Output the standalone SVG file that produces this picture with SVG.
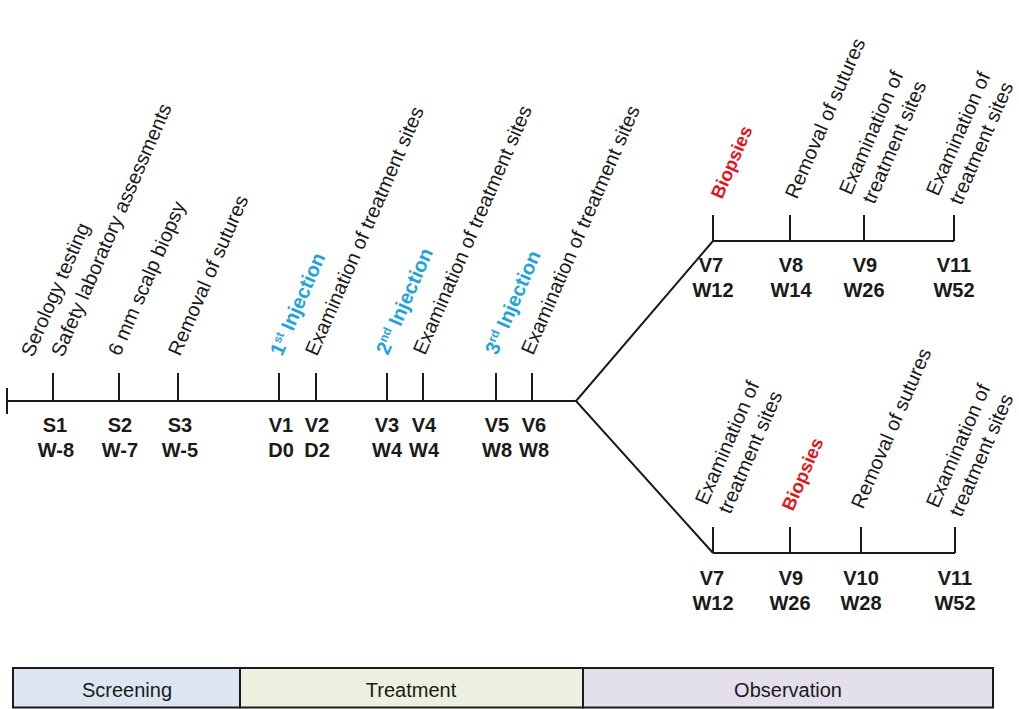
<svg xmlns="http://www.w3.org/2000/svg" width="1019" height="709" viewBox="0 0 1019 709">
<style>
.ln{stroke:#1a1a1a;stroke-width:2;fill:none}
.v{font-family:"Liberation Sans",Arial,sans-serif;font-weight:bold;font-size:20px;fill:#1a1a1a;text-anchor:middle}
.r{font-family:"Liberation Sans",Arial,sans-serif;font-size:20px;fill:#1a1a1a}
.inj{font-family:"Liberation Sans",Arial,sans-serif;font-weight:bold;font-size:20px;fill:#1fa3dc}
.sup{font-size:12px}
.bio{font-family:"Liberation Sans",Arial,sans-serif;font-weight:bold;font-size:18.5px;fill:#e3141c}
.ph{font-family:"Liberation Sans",Arial,sans-serif;font-size:20px;fill:#1a1a1a;text-anchor:middle}
.box{stroke:#1a1a1a;stroke-width:2}
</style>
<g id="connectors">
<line class="ln" x1="7" y1="401" x2="576" y2="401"/>
<line class="ln" x1="7" y1="388" x2="7" y2="414"/>
<polyline class="ln" points="713,241 576,401 713,553"/>
<line class="ln" x1="713" y1="241" x2="954" y2="241"/>
<line class="ln" x1="713" y1="553" x2="955" y2="553"/>
</g>
<g id="S1">
<line class="ln" x1="53" y1="373" x2="53" y2="401"/>
<text class="r" transform="translate(33,358) rotate(-66.5)">Serology testing</text>
<text class="r" transform="translate(63,358) rotate(-66.5)">Safety laboratory assessments</text>
<text class="v" x="55" y="432">S1</text><text class="v" x="56" y="457">W-8</text>
</g>
<g id="S2">
<line class="ln" x1="119" y1="373" x2="119" y2="401"/>
<text class="r" transform="translate(120,357) rotate(-66.5)">6 mm scalp biopsy</text>
<text class="v" x="120" y="432">S2</text><text class="v" x="120" y="457">W-7</text>
</g>
<g id="S3">
<line class="ln" x1="178" y1="373" x2="178" y2="401"/>
<text class="r" transform="translate(180,357) rotate(-66.5)">Removal of sutures</text>
<text class="v" x="180" y="432">S3</text><text class="v" x="180" y="457">W-5</text>
</g>
<g id="V1">
<line class="ln" x1="279" y1="373" x2="279" y2="401"/>
<text class="inj" transform="translate(282,357) rotate(-66.5)">1<tspan class="sup" dy="-7">st</tspan><tspan dy="7"> Injection</tspan></text>
<text class="v" x="281" y="432">V1</text><text class="v" x="281" y="457">D0</text>
</g>
<g id="V2">
<line class="ln" x1="316" y1="373" x2="316" y2="401"/>
<text class="r" transform="translate(317,357) rotate(-66.5)">Examination of treatment sites</text>
<text class="v" x="317" y="432">V2</text><text class="v" x="317" y="457">D2</text>
</g>
<g id="V3">
<line class="ln" x1="387" y1="373" x2="387" y2="401"/>
<text class="inj" transform="translate(388,356) rotate(-66.5)">2<tspan class="sup" dy="-7">nd</tspan><tspan dy="7"> Injection</tspan></text>
<text class="v" x="387" y="432">V3</text><text class="v" x="387" y="457">W4</text>
</g>
<g id="V4">
<line class="ln" x1="423" y1="373" x2="423" y2="401"/>
<text class="r" transform="translate(425,356) rotate(-66.5)">Examination of treatment sites</text>
<text class="v" x="424" y="432">V4</text><text class="v" x="424" y="457">W4</text>
</g>
<g id="V5">
<line class="ln" x1="496" y1="373" x2="496" y2="401"/>
<text class="inj" transform="translate(497,356) rotate(-66.5)">3<tspan class="sup" dy="-7">rd</tspan><tspan dy="7"> Injection</tspan></text>
<text class="v" x="497" y="432">V5</text><text class="v" x="497" y="457">W8</text>
</g>
<g id="V6">
<line class="ln" x1="532" y1="373" x2="532" y2="401"/>
<text class="r" transform="translate(533,356) rotate(-66.5)">Examination of treatment sites</text>
<text class="v" x="534" y="432">V6</text><text class="v" x="534" y="457">W8</text>
</g>
<g id="A-V7">
<line class="ln" x1="713" y1="215" x2="713" y2="241"/>
<text class="bio" transform="translate(722,200) rotate(-66.5)">Biopsies</text>
<text class="v" x="711" y="272">V7</text><text class="v" x="713" y="297">W12</text>
</g>
<g id="A-V8">
<line class="ln" x1="790" y1="215" x2="790" y2="241"/>
<text class="r" transform="translate(797,200) rotate(-66.5)">Removal of sutures</text>
<text class="v" x="791" y="272">V8</text><text class="v" x="791" y="297">W14</text>
</g>
<g id="A-V9">
<line class="ln" x1="864" y1="215" x2="864" y2="241"/>
<text class="r" transform="translate(851,196) rotate(-66.5)"><tspan x="0" y="0">Examination of</tspan><tspan x="1" y="25">treatment sites</tspan></text>
<text class="v" x="865" y="272">V9</text><text class="v" x="864" y="297">W26</text>
</g>
<g id="A-V11">
<line class="ln" x1="954" y1="215" x2="954" y2="241"/>
<text class="r" transform="translate(938,197) rotate(-66.5)"><tspan x="0" y="0">Examination of</tspan><tspan x="1" y="25">treatment sites</tspan></text>
<text class="v" x="954" y="272">V11</text><text class="v" x="954" y="297">W52</text>
</g>
<g id="B-V7">
<line class="ln" x1="713" y1="527" x2="713" y2="553"/>
<text class="r" transform="translate(707,506) rotate(-66.5)"><tspan x="0" y="0">Examination of</tspan><tspan x="1" y="25">treatment sites</tspan></text>
<text class="v" x="712" y="585">V7</text><text class="v" x="713" y="610">W12</text>
</g>
<g id="B-V9">
<line class="ln" x1="790" y1="527" x2="790" y2="553"/>
<text class="bio" transform="translate(793,512) rotate(-66.5)">Biopsies</text>
<text class="v" x="791" y="585">V9</text><text class="v" x="790" y="610">W26</text>
</g>
<g id="B-V10">
<line class="ln" x1="861" y1="527" x2="861" y2="553"/>
<text class="r" transform="translate(863,510) rotate(-66.5)">Removal of sutures</text>
<text class="v" x="861" y="585">V10</text><text class="v" x="861" y="610">W28</text>
</g>
<g id="B-V11">
<line class="ln" x1="955" y1="527" x2="955" y2="553"/>
<text class="r" transform="translate(938,509) rotate(-66.5)"><tspan x="0" y="0">Examination of</tspan><tspan x="1" y="25">treatment sites</tspan></text>
<text class="v" x="955" y="585">V11</text><text class="v" x="955" y="610">W52</text>
</g>
<g id="phase-screening">
<rect class="box" x="13" y="668" width="227" height="39.5" fill="#dce6f1"/>
<text class="ph" x="127" y="697">Screening</text>
</g>
<g id="phase-treatment">
<rect class="box" x="240" y="668" width="343" height="39.5" fill="#ebf1de"/>
<text class="ph" x="411" y="697">Treatment</text>
</g>
<g id="phase-observation">
<rect class="box" x="583" y="668" width="410" height="39.5" fill="#e4dfec"/>
<text class="ph" x="788" y="697">Observation</text>
</g>
</svg>
